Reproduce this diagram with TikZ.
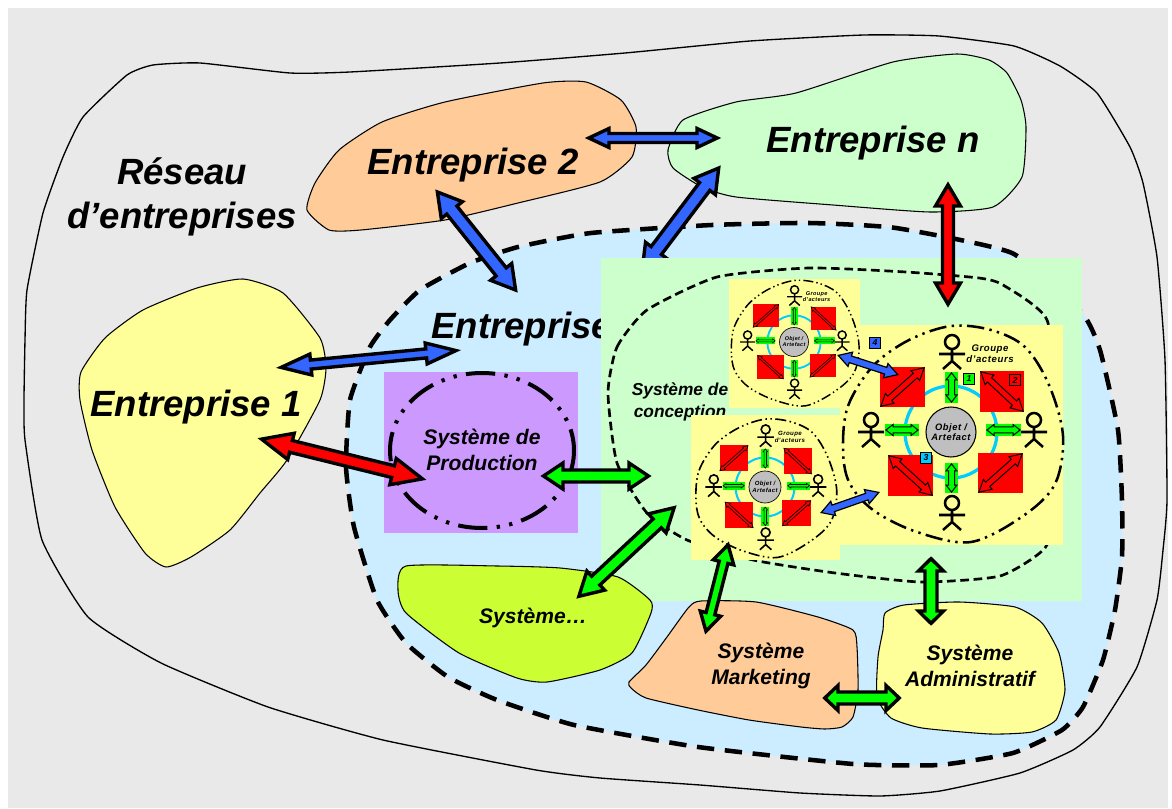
\documentclass[tikz,border=0pt]{standalone}
\usepackage{fontspec}
\setmainfont{Liberation Sans}
\usetikzlibrary{calc}

\definecolor{fondgris}{RGB}{233,233,233}
\definecolor{jaune}{RGB}{255,255,153}
\definecolor{peche}{RGB}{255,204,153}
\definecolor{vertclair}{RGB}{204,255,204}
\definecolor{bleuclair}{RGB}{204,236,255}
\definecolor{mauve}{RGB}{204,153,255}
\definecolor{citron}{RGB}{204,255,51}
\definecolor{bleufleche}{RGB}{51,102,255}
\definecolor{cyanarc}{RGB}{0,204,255}

\tikzset{
  every picture/.style={line width=0.75pt},
  titre/.style={font=\fontsize{27.4}{33.5}\selectfont\bfseries\itshape,align=center,inner sep=0pt},
  soustitre/.style={font=\fontsize{15.8}{19.5}\selectfont\bfseries\itshape,align=center,inner sep=0pt},
  contour/.style={line width=0.8pt},
  tirets/.style={line width=3.4pt,dash pattern=on 13pt off 8pt},
  numero/.style={draw=black,line width=0.6pt,minimum size=8.5pt,inner sep=0pt,font=\fontsize{6.5}{7}\selectfont\itshape\bfseries},
}

% double arrow between two named coordinates: [line], name, from, to, fill, head width, shaft, head length
\newcommand{\fatarrow}[8][3.4]{
  \pgfmathsetlengthmacro{\fh}{(#8)*0.75pt}
  \pgfmathsetlengthmacro{\fw}{(#6)*0.375pt}
  \pgfmathsetlengthmacro{\fs}{(#7)*0.375pt}
  \pgfmathsetlengthmacro{\fo}{(#1)*0.375pt/sin(atan((#6)/(2*(#8))))}
  \draw[fill=#5,line width=#1*0.75pt,line join=miter,miter limit=8]
    ($(#3)!\fo!(#4)$) -- ($(#3)!\fh!(#4)!\fw!90:(#4)$) -- ($(#3)!\fh!(#4)!\fs!90:(#4)$)
    -- ($(#4)!\fh!(#3)!\fs!-90:(#3)$) -- ($(#4)!\fh!(#3)!\fw!-90:(#3)$) -- ($(#4)!\fo!(#3)$)
    -- ($(#4)!\fh!(#3)!\fw!90:(#3)$) -- ($(#4)!\fh!(#3)!\fs!90:(#3)$)
    -- ($(#3)!\fh!(#4)!\fs!-90:(#4)$) -- ($(#3)!\fh!(#4)!\fw!-90:(#4)$) -- cycle;
}

% stick figure, head at the given point
\newcommand{\acteur}[2]{
  \begin{scope}[shift={(#1,#2)},line width=\gs*1.9pt]
    \draw[fill=jaune] (0,0) circle (7);
    \draw (0,7) -- (0,19) (-13,12) -- (13,12) (-9,27) -- (0,19) -- (9,27);
  \end{scope}
}

% red square with its arrow
\newcommand{\carre}[7]{
  \fill[red] (#2,#3) rectangle (#4,#5);
  \coordinate (#1a) at (#2,#6);
  \coordinate (#1b) at (#4,#7);
  \fatarrow[\gs*1]{#1f}{#1a}{#1b}{red}{13*\gs}{6*\gs}{13*\gs}
}

% one group of actors round its object
\newcommand{\groupe}[4]{
  \def\gs{#4}
  \pgfmathsetmacro{\gobj}{#4*7}
  \pgfmathsetmacro{\gobjl}{#4*7.8}
  \pgfmathsetmacro{\gact}{#4*7.2}
  \pgfmathsetmacro{\gactl}{#4*8.2}
  \begin{scope}[shift={(#2,#3)},scale=#4]
    %Shape: Group border
    \draw[line width=#4*1.9pt,dash pattern=on #4*13pt off #4*4pt on #4*1.8pt off #4*4pt on #4*1.8pt off #4*4pt] plot[smooth cycle,tension=0.55] coordinates {(-108,16) (-103,-26) (-78,-66) (-42,-92) (0,-106) (40,-102) (74,-85) (98,-47) (112,4) (104,52) (72,84) (20,110) (-34,100) (-78,78) (-102,50)};
    %Shape: Arc
    \draw[cyanarc,line width=#4*2.4pt] (0,0) circle (46);
    \carre{#1tl}{-71}{-65}{-26}{-25}{-25}{-65}
    \carre{#1tr}{29}{-61}{73}{-20}{-61}{-20}
    \carre{#1bl}{-63}{23}{-18}{64}{23}{64}
    \carre{#1br}{27}{21}{72}{61}{61}{21}
    \fill[green] (-6,-60) rectangle (7,-29);
    \fill[green] (-6,31) rectangle (7,61);
    \fill[green] (-66,-8) rectangle (-32,4);
    \fill[green] (35,-8) rectangle (70,4);
    \coordinate (#1na) at (0.5,-60); \coordinate (#1nb) at (0.5,-29);
    \coordinate (#1sa) at (0.5,31); \coordinate (#1sb) at (0.5,61);
    \coordinate (#1oa) at (-66,-2); \coordinate (#1ob) at (-32,-2);
    \coordinate (#1ea) at (35,-2); \coordinate (#1eb) at (70,-2);
    \fatarrow[\gs*1]{#1nf}{#1na}{#1nb}{green}{11*\gs}{6*\gs}{8*\gs}
    \fatarrow[\gs*1]{#1sf}{#1sa}{#1sb}{green}{11*\gs}{6*\gs}{8*\gs}
    \fatarrow[\gs*1]{#1of}{#1oa}{#1ob}{green}{11*\gs}{6*\gs}{8*\gs}
    \fatarrow[\gs*1]{#1ef}{#1ea}{#1eb}{green}{11*\gs}{6*\gs}{8*\gs}
    \acteur{1}{-90}
    \acteur{1}{71}
    \acteur{-80}{-12}
    \acteur{83}{-12}
    % Text Node
    \draw (0,0) node (#1objet) [circle,draw=black,fill=gray!50,line width=#4*0.8pt,minimum size=#4*37.5pt,inner sep=0pt,align=center,font=\fontsize{\gobj}{\gobjl}\selectfont\bfseries\itshape\addfontfeature{LetterSpace=6}] {Objet /\\Artefact};
    % Text Node
    \draw (39,-78.5) node (#1acteurs) [align=center,inner sep=0pt,font=\fontsize{\gact}{\gactl}\selectfont\bfseries\itshape\addfontfeature{LetterSpace=6}] {Groupe\\d'acteurs};
  \end{scope}
}

\begin{document}
\begin{tikzpicture}[x=0.75pt,y=0.75pt,yscale=-1,xscale=1]
\useasboundingbox (0,0) rectangle (1172,809);

%Shape: Rectangle
\fill[white] (0,0) rectangle (1172,809);
\fill[fondgris] (7.5,8) rectangle (1168,808);

%Shape: Network
\draw[line width=1pt] plot[smooth cycle,tension=0.3] coordinates {(24,400) (25,340) (27,290) (43,213) (63,157) (83,117) (127,75) (153,65) (200,63) (290,73) (350,72) (500,63) (625,53) (750,41) (864,35) (939,36) (1014,46) (1060,66) (1097,93) (1130,147) (1143,183) (1157,257) (1165,360) (1167,500) (1163,550) (1157,600) (1137,667) (1100,727) (1073,750) (1020,773) (940,791) (880,796) (800,793) (700,785) (600,778) (536,770) (383,740) (268,707) (161,663) (88,617) (42,540) (25,440)};

%Shape: Entreprise 2
\draw[contour,fill=peche] plot[smooth cycle,tension=0.35] coordinates {(307,210) (329,230) (361,230) (445,220) (518,203) (600,182) (632,157) (636,127) (621,100) (586,82) (543,83) (445,102) (382,122) (339,150) (315,183)};
%Shape: Entreprise n
\draw[contour,fill=vertclair] plot[smooth cycle,tension=0.35] coordinates {(668,150) (673,168) (702,187) (736,197) (833,205) (930,212) (993,207) (1022,177) (1026,127) (1021,100) (1007,73) (989,60) (957,54) (893,62) (796,93) (736,102) (683,120)};
%Shape: Entreprise 1
\draw[contour,fill=jaune] plot[smooth cycle,tension=0.35] coordinates {(81,372) (105,338) (143,310) (197,288) (243,279) (283,293) (320,338) (326,368) (320,400) (287,460) (260,493) (230,530) (191,557) (166,567) (145,553) (115,507) (92,450) (80,400)};
%Shape: Entreprise
\draw[tirets,fill=bleuclair] plot[smooth cycle,tension=0.3] coordinates {(346,467) (350,400) (370,347) (390,320) (420,290) (470,263) (518,247) (591,233) (712,225) (809,223) (896,228) (1012,253) (1082,313) (1100,350) (1118,430) (1122,500) (1122,557) (1115,610) (1103,660) (1083,707) (1062,730) (1013,753) (939,765) (853,764) (698,747) (574,725) (497,700) (448,677) (406,643) (377,600) (354,527)};

% Text Node
\draw (182,197) node (reseau) [titre] {Réseau\\d'entreprises};
% Text Node
\draw (473,165) node (ent2) [titre] {Entreprise 2};
% Text Node
\draw (873,143) node (entn) [titre] {Entreprise n};
% Text Node
\draw (196,407) node (ent1) [titre] {Entreprise 1};
% Text Node
\draw (431,329) node (ent) [titre,anchor=west] {Entreprise};

\coordinate (b1) at (584,138); \coordinate (b2) at (722,138);
\coordinate (b3) at (435,189); \coordinate (b4) at (518,293);
\coordinate (b5) at (640,272); \coordinate (b6) at (721,165);
\coordinate (b7) at (275,368); \coordinate (b8) at (462,350);
%Straight Lines
\fatarrow{ent2entn}{b1}{b2}{bleufleche}{19}{9}{25}
\fatarrow{ent2ent}{b3}{b4}{bleufleche}{27}{13}{27}
\fatarrow{ententn}{b5}{b6}{bleufleche}{27}{13}{27}
\fatarrow{ent1ent}{b7}{b8}{bleufleche}{21}{9}{36}

%Shape: Rectangle
\fill[mauve] (384,372) rectangle (578,533);
%Shape: Production
\draw[line width=3pt,dash pattern=on 22pt off 7pt on 2.5pt off 7pt on 2.5pt off 7pt] (482,450.5) ellipse (92 and 77.5);
\coordinate (r1) at (257,438); \coordinate (r2) at (427,480);
%Straight Lines
\fatarrow{ent1prod}{r1}{r2}{red}{27}{12}{35}
% Text Node
\draw (482,450) node (prod) [soustitre] {Système de\\Production};

%Shape: Rectangle
\fill[vertclair] (601,258) rectangle (1082,601);
%Shape: Conception
\draw[line width=2pt,dash pattern=on 6.5pt off 3.5pt] plot[smooth cycle,tension=0.35] coordinates {(608,393) (617,347) (647,310) (717,277) (809,268) (906,272) (979,278) (1003,285) (1047,320) (1060,420) (1060,500) (1045,548) (1000,576) (921,582) (835,573) (753,560) (687,540) (647,513) (617,463)};
% Text Node
\draw (680,402) node (conc) [soustitre,font=\fontsize{13}{17}\selectfont\bfseries\itshape] {Système de\\conception};

%Shape: Rectangle
\fill[jaune] (729,279) rectangle (860,408);
\fill[jaune] (840,325) rectangle (1063,545);
\fill[jaune] (691,415) rectangle (840,560);

\groupe{g}{951}{432}{1}
\groupe{h}{794}{342}{0.58}
\groupe{k}{765}{487}{0.64}

% Text Node
\draw (969,379) node (n1) [numero,fill=green] {1};
% Text Node
\draw (1015,380) node (n2) [numero,fill=red] {2};
% Text Node
\draw (926,458) node (n3) [numero,fill=cyanarc] {3};
% Text Node
\draw (875,343) node (n4) [numero,fill=bleufleche] {4};

\coordinate (s1) at (837,355); \coordinate (s2) at (899,375);
\coordinate (s3) at (820,513); \coordinate (s4) at (880,492);
%Straight Lines
\fatarrow[1.2]{sbh}{s1}{s2}{bleufleche}{15}{7}{14}
\fatarrow[1.2]{sbk}{s3}{s4}{bleufleche}{15}{7}{14}

\coordinate (r3) at (948,181); \coordinate (r4) at (948,308);
\fatarrow{entnconc}{r3}{r4}{red}{25}{11}{25}

%Shape: Systeme
\draw[contour,fill=citron] plot[smooth cycle,tension=0.35] coordinates {(398,590) (406,566) (497,566) (560,568) (618,577) (650,600) (651,613) (632,653) (600,670) (547,682) (517,678) (459,653) (406,613)};
%Shape: Marketing
\draw[contour,fill=peche] plot[smooth cycle,tension=0.35] coordinates {(629,682) (646,665) (667,637) (689,607) (701,601) (756,602) (818,617) (853,630) (857,647) (858,690) (853,717) (842,727) (825,729) (801,727) (749,720) (698,710) (646,698) (631,688)};
%Shape: Administratif
\draw[contour,fill=jaune] plot[smooth cycle,tension=0.35] coordinates {(885,613) (904,605) (959,602) (1015,607) (1042,623) (1059,653) (1065,690) (1056,720) (1032,732) (990,734) (922,728) (891,718) (877,697) (878,657) (883,630)};

% Text Node
\draw (533,618) node (sys) [soustitre] {Système…};
% Text Node
\draw (761,666) node (mkt) [soustitre] {Système\\Marketing};
% Text Node
\draw (970,666) node (adm) [soustitre] {Système\\Administratif};

\coordinate (v1) at (540,476); \coordinate (v2) at (652,476);
\coordinate (v3) at (576,599); \coordinate (v4) at (677,505);
\coordinate (v5) at (729,541); \coordinate (v6) at (705,635);
\coordinate (v7) at (931,556); \coordinate (v8) at (931,626);
\coordinate (v9) at (822,698); \coordinate (v10) at (902,698);
%Straight Lines
\fatarrow{prodconc}{v1}{v2}{green}{26}{12}{23}
\fatarrow{sysconc}{v3}{v4}{green}{26}{12}{27}
\fatarrow{kmkt}{v5}{v6}{green}{21}{9}{22}
\fatarrow{concadm}{v7}{v8}{green}{25}{12}{15}
\fatarrow{mktadm}{v9}{v10}{green}{25}{12}{16}

\end{tikzpicture}
\end{document}
